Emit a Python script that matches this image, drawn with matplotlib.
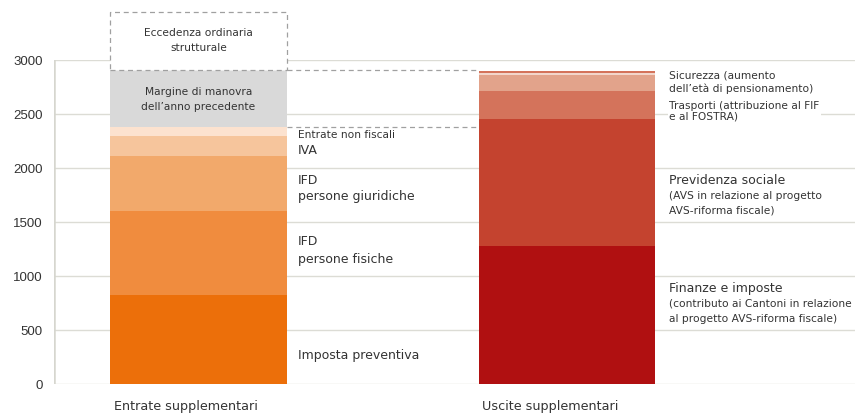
import matplotlib.pyplot as plt
from matplotlib.patches import Rectangle

# values in millions
entrate_names = ["Imposta preventiva", "IFD persone fisiche", "IFD persone giuridiche",
                 "IVA", "Entrate non fiscali", "Margine di manovra"]
entrate_vals = [820, 778, 509, 186, 83, 531]
entrate_cols = ["#ec6f0a", "#f08c3e", "#f2a96b", "#f6c59c", "#fce2cf", "#d9d9d9"]
eccedenza_val = 542

uscite_names = ["Finanze e imposte", "Previdenza sociale", "Trasporti",
                "Sicurezza", "Altro 1", "Altro 2"]
uscite_vals = [1280, 1174, 255, 148, 19, 25]
uscite_cols = ["#b01011", "#c4432f", "#d4735b", "#e2a38b", "#f3d6cb", "#d4735b"]

categorie = ["Entrate supplementari", "Uscite supplementari"]
yticks = [0, 500, 1000, 1500, 2000, 2500, 3000]

W = 0.48
txt = "#333333"
fnt = "DejaVu Sans"
big = 9.0
small = 7.7

fig = plt.figure(figsize=(8.65, 4.17), dpi=100)
ax = fig.add_axes([0.0624, 0.0791, 0.926, 0.777])
ax.set_xlim(-0.392, 1.7815)
ax.set_ylim(0, 3000)

for y in yticks:
    ax.axhline(y, color="#dcdcd5", lw=1, zorder=0)
ax.axvline(-0.392, color="#d6d6cf", lw=1.8, zorder=0)

b = 0
for v, c in zip(entrate_vals, entrate_cols):
    ax.bar(0, v, W, bottom=b, color=c, zorder=2)
    b += v
top_entrate = b
ax.add_patch(Rectangle((-W / 2, top_entrate), W, eccedenza_val, facecolor="white",
                       edgecolor="#a0a0a0", ls=(0, (4, 3)), lw=0.9, zorder=3, clip_on=False))

b = 0
for v, c in zip(uscite_vals, uscite_cols):
    ax.bar(1, v, W, bottom=b, color=c, zorder=2)
    b += v

# dashed guide lines
ax.plot([W / 2, 1 - W / 2], [top_entrate, top_entrate], color="#a0a0a0", ls=(0, (4, 3)), lw=0.9, zorder=1)
lvl = sum(entrate_vals[:5])
ax.plot([W / 2, 1 - W / 2], [lvl, lvl], color="#a0a0a0", ls=(0, (4, 3)), lw=0.9, zorder=1)

for s in ax.spines.values():
    s.set_visible(False)
ax.set_xticks([])
ax.set_yticks(yticks)
ax.tick_params(axis="y", length=0, pad=8)
for lab in ax.get_yticklabels():
    lab.set_fontfamily("Liberation Sans")
    lab.set_fontsize(9.5)
    lab.set_color("#333333")

xl = W / 2 + 0.03
xr = 1 + W / 2 + 0.038

def t(x, y, s, size, **kw):
    ax.text(x, y, s, fontsize=size, color=txt, family=fnt, va="center", zorder=5, **kw)

t(xl, 2308, "Entrate non fiscali", small)
t(xl, 2160, "IVA", big)
t(xl, 1882, "IFD", big)
t(xl, 1734, "persone giuridiche", big)
t(xl, 1318, "IFD", big)
t(xl, 1151, "persone fisiche", big)
t(xl, 262, "Imposta preventiva", big)
t(0, 2706, "Margine di manovra", small, ha="center")
t(0, 2568, "dell\u2019anno precedente", small, ha="center")
t(0, 3253, "Eccedenza ordinaria", small, ha="center")
t(0, 3114, "strutturale", small, ha="center")

t(xr, 2854, "Sicurezza (aumento", small)
t(xr, 2734, "dell\u2019et\u00e0 di pensionamento)", small)
ax.text(xr, 2526, "Trasporti (attribuzione al FIF\ne al FOSTRA)", fontsize=small, color=txt,
        family=fnt, va="center", linespacing=1.1, zorder=5,
        bbox=dict(facecolor="white", edgecolor="none", pad=1))
t(xr, 1882, "Previdenza sociale", big)
t(xr, 1743, "(AVS in relazione al progetto", small)
t(xr, 1604, "AVS-riforma fiscale)", small)
t(xr, 882, "Finanze e imposte", big)
t(xr, 744, "(contributo ai Cantoni in relazione", small)
t(xr, 605, "al progetto AVS-riforma fiscale)", small)

for i, c in enumerate(categorie):
    ax.text(i - W / 2 + 0.01, -210, c, fontsize=9.2, color=txt, family=fnt, va="center",
            clip_on=False)

fig.savefig("out.png", dpi=100)
